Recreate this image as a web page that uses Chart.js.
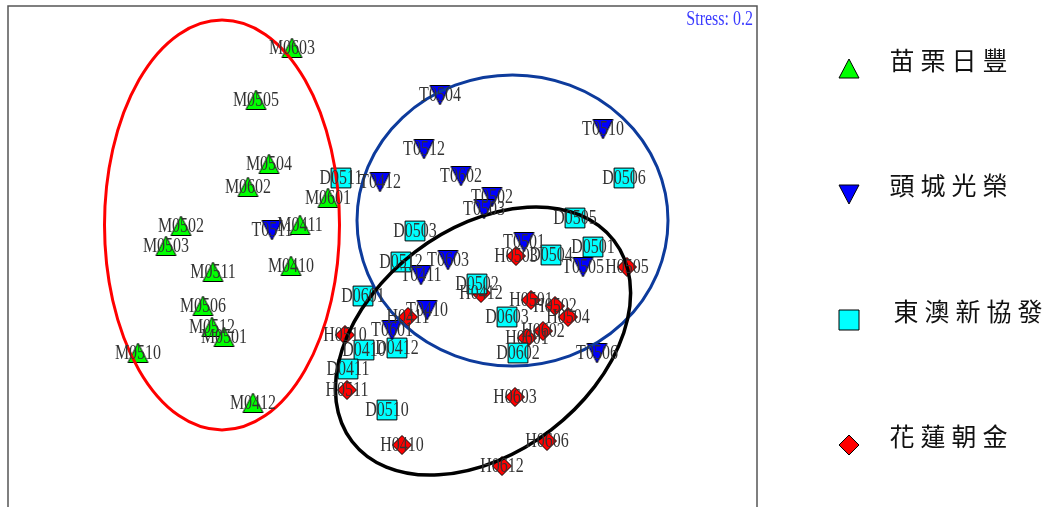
<!DOCTYPE html>
<html><head><meta charset="utf-8">
<script src="https://cdn.jsdelivr.net/npm/chart.js@4/dist/chart.umd.min.js"></script>
<style>html,body{margin:0;padding:0;background:#fff;overflow:hidden}canvas{display:block}</style>
</head><body>
<canvas id="c" width="1054" height="507" style="width:1054px;height:507px"></canvas>
<script>
// ---- data (NMDS axis units) ----
const groupNames = ['苗栗日豐', '頭城光榮', '東澳新協發', '花蓮朝金'];
const stressLabel = 'Stress: 0.2';

const mLabels = ['M0603','M0505','M0504','M0602','M0601','M0502','M0503','M0411','M0511','M0410','M0506','M0512','M0501','M0510','M0412'];
const mX = [-0.90,-1.26,-1.13,-1.34,-0.54,-2.01,-2.16,-0.82,-1.69,-0.91,-1.79,-1.70,-1.58,-2.44,-1.29];
const mY = [ 2.09, 1.57, 0.93, 0.70, 0.59, 0.31, 0.11, 0.32,-0.15,-0.09,-0.49,-0.70,-0.80,-0.96,-1.46];

const tLabels = ['T0504','T0510','T0512','T0412','T0602','T0502','T0503','T0511','T0501','T0603','T0411','T0505','T0410','T0601','T0506'];
const tX = [0.58,2.21,0.42,-0.02,0.79,1.10,1.02,-1.10,1.42,0.66,0.39,2.01,0.45,0.10,2.15];
const tY = [1.62,1.28,1.08, 0.75,0.81,0.60,0.48, 0.27,0.15,-0.03,-0.18,-0.10,-0.53,-0.73,-0.96];

const dLabels = ['D0511','D0506','D0505','D0503','D0512','D0504','D0501','D0502','D0601','D0603','D0410','D0412','D0602','D0411','D0510'];
const dX = [-0.41,2.42,1.93,0.33,0.19,1.69,2.11,0.95,-0.19,1.25,-0.18,0.15,1.36,-0.34,0.05];
const dY = [ 0.79,0.79,0.39,0.26,-0.05,0.02,0.10,-0.27,-0.39,-0.60,-0.93,-0.91,-0.96,-1.12,-1.53];

const hLabels = ['H0503','H0505','H0412','H0501','H0502','H0504','H0411','H0510','H0602','H0601','H0511','H0603','H0410','H0606','H0612'];
const hX = [1.34,2.45,0.99,1.49,1.73,1.86,0.26,-0.37,1.61,1.45,-0.35,1.33,0.20,1.65,1.20];
const hY = [0.01,-0.10,-0.36,-0.43,-0.49,-0.60,-0.60,-0.78,-0.74,-0.81,-1.33,-1.40,-1.88,-1.84,-2.09];

// group ellipses: centre, semi-axes, rotation (degrees, counter-clockwise)
const ellipseCX = [-1.60, 1.305, 1.01];
const ellipseCY = [ 0.32, 0.365, -0.84];
const ellipseRX = [ 1.175, 1.555, 1.65];
const ellipseRY = [ 2.05, 1.455, 1.12];
const ellipseAngle = [0, 0, 37.5];

// ---- build ----
const pts = (xs, ys) => xs.map((x, i) => ({x, y: ys[i]}));
const groupLabels = [mLabels, tLabels, dLabels, hLabels];
const fills = ['#00ff00', '#0000ff', '#00ffff', '#ff0000'];
const ellipseColors = ['#ff0000', '#0d3b9c', '#000000'];

// triangle marker images centred on their bounding box
function triImage(fill, down) {
  const c = document.createElement('canvas');
  c.width = 23; c.height = 22;
  const g = c.getContext('2d');
  g.beginPath();
  if (!down) { g.moveTo(11.5, 1); g.lineTo(21.5, 20.5); g.lineTo(1.5, 20.5); }
  else { g.moveTo(1.5, 1.5); g.lineTo(21.5, 1.5); g.lineTo(11.5, 21); }
  g.closePath();
  g.fillStyle = fill; g.fill();
  g.strokeStyle = '#000'; g.lineWidth = 1; g.stroke();
  return c;
}

const datasets = [
  {label: groupNames[0], data: pts(mX, mY), pointStyle: triImage(fills[0], false), pointRadius: 11},
  {label: groupNames[1], data: pts(tX, tY), pointStyle: triImage(fills[1], true), pointRadius: 11},
  {label: groupNames[2], data: pts(dX, dY), pointStyle: 'rect', pointRadius: 14},
  {label: groupNames[3], data: pts(hX, hY), pointStyle: 'rectRot', pointRadius: 9.5}
].map((d, i) => Object.assign(d, {
  backgroundColor: fills[i], borderColor: '#000', borderWidth: 1, pointHoverRadius: d.pointRadius
}));

const overlay = {
  id: 'overlay',
  afterDatasetsDraw(chart) {
    const {ctx, chartArea: a, scales: {x, y}} = chart;
    ctx.save();
    // frame
    ctx.strokeStyle = '#555'; ctx.lineWidth = 1.5;
    ctx.beginPath();
    ctx.moveTo(a.left, chart.height + 2); ctx.lineTo(a.left, a.top);
    ctx.lineTo(a.right, a.top); ctx.lineTo(a.right, chart.height + 2);
    ctx.stroke();
    // ellipses
    ellipseCX.forEach((cx, i) => {
      const px = x.getPixelForValue(cx), py = y.getPixelForValue(ellipseCY[i]);
      const rx = Math.abs(x.getPixelForValue(cx + ellipseRX[i]) - px);
      const ry = Math.abs(y.getPixelForValue(ellipseCY[i] + ellipseRY[i]) - py);
      ctx.beginPath();
      ctx.ellipse(px, py, rx, ry, -ellipseAngle[i] * Math.PI / 180, 0, Math.PI * 2);
      ctx.strokeStyle = ellipseColors[i]; ctx.lineWidth = i === 2 ? 3.5 : 3;
      ctx.stroke();
    });
    // point labels
    ctx.fillStyle = '#333';
    ctx.font = '16px "Liberation Serif", "Times New Roman", serif';
    ctx.textAlign = 'center'; ctx.textBaseline = 'middle';
    chart.data.datasets.forEach((ds, di) => {
      const meta = chart.getDatasetMeta(di);
      meta.data.forEach((el, i) => {
        ctx.save();
        ctx.translate(el.x, el.y + 1);
        ctx.scale(1, 1.25);
        ctx.fillText(groupLabels[di][i], 0, 0);
        ctx.restore();
      });
    });
    // stress
    ctx.save();
    ctx.fillStyle = '#3b3bff'; ctx.textAlign = 'right';
    ctx.translate(a.right - 4, a.top + 14);
    ctx.scale(1, 1.25);
    ctx.fillText(stressLabel, 0, 0);
    ctx.restore();
    // legend
    const lx = 849, ly = [69, 194, 320, 445];
    ly.forEach((yy, i) => {
      ctx.beginPath();
      if (i === 0) { ctx.moveTo(lx, yy - 10); ctx.lineTo(lx + 10, yy + 9); ctx.lineTo(lx - 10, yy + 9); ctx.closePath(); }
      else if (i === 1) { ctx.moveTo(lx - 10, yy - 9); ctx.lineTo(lx + 10, yy - 9); ctx.lineTo(lx, yy + 10); ctx.closePath(); }
      else if (i === 2) { ctx.rect(lx - 10, yy - 10, 20, 20); }
      else { ctx.moveTo(lx, yy - 10); ctx.lineTo(lx + 10, yy); ctx.lineTo(lx, yy + 10); ctx.lineTo(lx - 10, yy); ctx.closePath(); }
      ctx.fillStyle = fills[i]; ctx.fill();
      ctx.strokeStyle = '#000'; ctx.lineWidth = 1; ctx.stroke();
      ctx.fillStyle = '#111';
      ctx.font = '25px "Noto Sans CJK TC", "Noto Sans CJK SC", sans-serif';
      ctx.textAlign = 'center'; ctx.textBaseline = 'middle';
      const chars = Array.from(groupNames[i]);
      const sx = (i === 2 ? 894 : 890) + 12;
      chars.forEach((ch, k) => ctx.fillText(ch, sx + k * 31, yy - 9));
    });
    ctx.restore();
  }
};

new Chart(document.getElementById('c'), {
  type: 'scatter',
  data: {datasets},
  options: {
    responsive: false,
    animation: false,
    events: [],
    layout: {autoPadding: false, padding: {left: 8, top: 6, right: 297, bottom: 0}},
    plugins: {legend: {display: false}, tooltip: {enabled: false}},
    scales: {
      x: {display: false, type: 'linear', min: -3.74, max: 3.75},
      y: {display: false, type: 'linear', min: -2.50, max: 2.51}
    }
  },
  plugins: [overlay]
});
</script>
</body></html>
